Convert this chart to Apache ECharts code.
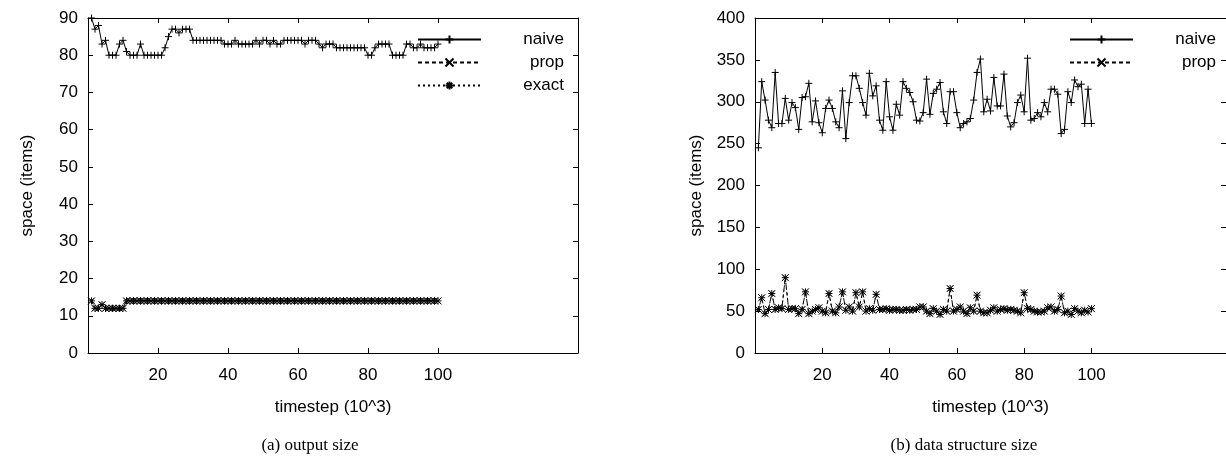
<!DOCTYPE html>
<html>
<head>
<meta charset="utf-8">
<script src="https://cdn.jsdelivr.net/npm/echarts@6/dist/echarts.min.js"></script>
<style>
  html, body { margin: 0; padding: 0; background: #fff; }
  #main { width: 1226px; height: 461px; }
</style>
</head>
<body>
<div id="main"></div>
<script>
// (a) output size, timestep 1..100
var outNaive = [90,87,88,83,84,80,80,80,83,84,81,80,80,80,83,80,80,80,80,80,
  80,82,85,87,87,86,87,87,87,84,84,84,84,84,84,84,84,84,83,83,
  83,84,83,83,83,83,83,84,83,84,84,83,84,83,83,84,84,84,84,84,
  84,83,84,84,84,83,82,83,83,83,82,82,82,82,82,82,82,82,82,80,
  80,82,83,83,83,83,80,80,80,80,83,83,82,82,83,82,82,82,82,83];
var outProp = [14,12,12,13,12,12,12,12,12,12,14,14,14,14,14,14,14,14,14,14,
  14,14,14,14,14,14,14,14,14,14,14,14,14,14,14,14,14,14,14,14,
  14,14,14,14,14,14,14,14,14,14,14,14,14,14,14,14,14,14,14,14,
  14,14,14,14,14,14,14,14,14,14,14,14,14,14,14,14,14,14,14,14,
  14,14,14,14,14,14,14,14,14,14,14,14,14,14,14,14,14,14,14,14];
var outExact = outProp.slice();

// (b) data structure size
var dsNaive = [245,324,302,278,269,335,274,274,304,278,
  299,293,267,305,306,322,276,301,275,263,
  292,302,292,276,269,313,256,299,331,331,
  316,299,284,334,307,319,278,266,324,282,
  266,297,284,324,316,311,300,278,277,287,
  327,285,310,315,323,288,274,312,312,287,
  269,274,276,280,302,335,351,288,303,289,
  329,295,295,333,283,270,275,299,308,288,
  352,278,280,287,282,299,288,315,315,309,
  262,267,312,299,326,318,321,274,315,274];
var dsProp = [52,66,47,52,71,52,54,53,90,52,
  53,53,47,52,73,47,50,52,54,50,
  48,71,50,48,55,73,51,55,50,72,
  55,73,50,53,51,70,52,52,53,51,
  52,52,51,51,52,51,52,52,55,55,
  50,47,53,50,46,52,50,77,50,52,
  55,50,47,54,50,69,50,48,48,51,
  54,50,52,53,51,52,51,50,48,72,
  53,52,50,49,49,50,54,55,50,52,
  68,48,50,46,53,50,48,51,49,53];
var dsExact = dsProp.slice();

var xTicks = [20, 40, 60, 80, 100];

function pairs(arr) {
  return arr.map(function (v, i) { return [i + 1, v]; });
}

var font = 'Liberation Sans';
var symPlus = 'path://M0,5L10,5M5,0L5,10';
var symCross = 'path://M0,0L10,10M10,0L0,10';
var symStar = 'path://M0,5L10,5M5,0L5,10M1.5,1.5L8.5,8.5M8.5,1.5L1.5,8.5';

function line(name, data, sym, type, g, legendColor) {
  return {
    name: name, type: 'line', data: pairs(data),
    xAxisIndex: g * 2, yAxisIndex: g * 2,
    symbol: sym, symbolSize: 7, showSymbol: true,
    animation: false,
    lineStyle: { color: legendColor || '#000', width: 1, type: type },
    itemStyle: { color: '#000', borderColor: '#000', borderWidth: 1 }
  };
}

function xAx(g, top) {
  return {
    type: 'value', gridIndex: g, min: 0, max: 140, interval: 20,
    position: top ? 'top' : 'bottom',
    name: top ? '' : 'timestep (10^3)', nameLocation: 'middle', nameGap: 46,
    nameTextStyle: { fontFamily: font, fontSize: 17, color: '#000' },
    axisLine: { show: true, onZero: false, lineStyle: { color: '#000' } },
    axisTick: { inside: true, length: 5, lineStyle: { color: '#000' }, customValues: xTicks },
    axisLabel: { show: !top, fontFamily: font, fontSize: 17, color: '#000', margin: 14, customValues: xTicks },
    splitLine: { show: false }
  };
}

function yAx(g, right, max, step) {
  return {
    type: 'value', gridIndex: g, min: 0, max: max, interval: step,
    position: right ? 'right' : 'left',
    name: right ? '' : 'space (items)', nameLocation: 'middle', nameGap: g ? 50 : 52,
    nameTextStyle: { fontFamily: font, fontSize: 17, color: '#000' },
    axisLine: { show: true, onZero: false, lineStyle: { color: '#000' } },
    axisTick: { inside: true, length: 5, lineStyle: { color: '#000' } },
    axisLabel: { show: !right, fontFamily: font, fontSize: 17, color: '#000', margin: 10 },
    splitLine: { show: false }
  };
}

function legend(names, left) {
  return {
    orient: 'vertical', left: left, top: 26, itemWidth: 63, itemHeight: 10, itemGap: 6,
    data: names,
    formatter: '{a|{name}}',
    textStyle: { fontFamily: font, fontSize: 17, color: '#000',
      rich: { a: { fontFamily: font, fontSize: 17, color: '#000', width: 78, align: 'right' } } }
  };
}

var chart = echarts.init(document.getElementById('main'));
chart.setOption({
  animation: false,
  title: [
    { text: '(a) output size', left: 305, top: 432, textAlign: 'center',
      textStyle: { fontFamily: 'Liberation Serif', fontSize: 17, fontWeight: 'normal', color: '#000' } },
    { text: '(b) data structure size', left: 959, top: 432, textAlign: 'center',
      textStyle: { fontFamily: 'Liberation Serif', fontSize: 17, fontWeight: 'normal', color: '#000' } }
  ],
  grid: [
    { left: 88, width: 490, top: 18, height: 335 },
    { left: 755, width: 476, top: 18, height: 335 }
  ],
  xAxis: [xAx(0, false), xAx(0, true), xAx(1, false), xAx(1, true)],
  yAxis: [yAx(0, false, 90, 10), yAx(0, true, 90, 10), yAx(1, false, 400, 50), yAx(1, true, 400, 50)],
  legend: [legend(['naive', 'prop', 'exact'], 412), legend(['naive', 'prop'], 1064)],
  series: [
    line('naive', outNaive, symPlus, 'solid', 0, '#000'),
    line('prop', outProp, symCross, [4, 3], 0),
    line('exact', outExact, symStar, [2, 3], 0),
    line('naive', dsNaive, symPlus, 'solid', 1, '#000'),
    line('prop', dsProp, symCross, [4, 3], 1),
    line('exact', dsExact, symStar, [2, 3], 1)
  ]
});
</script>
</body>
</html>
